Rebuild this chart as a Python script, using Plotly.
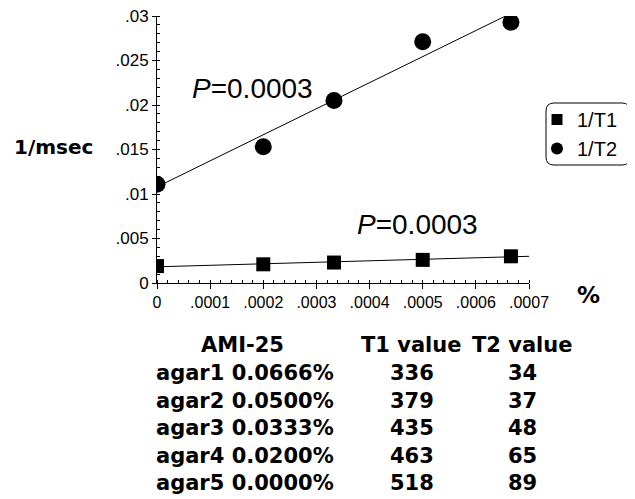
import plotly.graph_objects as go

# ---- data ----
conc_x = [0.0, 0.0002, 0.000333, 0.0005, 0.000666]
inv_t1 = [0.0019, 0.0021, 0.0023, 0.0026, 0.0030]
inv_t2 = [0.0111, 0.0153, 0.0205, 0.0271, 0.0293]

# regression lines (end points)
fit_t1_x = [0.0, 0.0007]
fit_t1_y = [0.00182, 0.00300]
fit_t2_x = [0.0, 0.000666]
fit_t2_y = [0.0108, 0.0303]

x_tickvals = [0, 0.0001, 0.0002, 0.0003, 0.0004, 0.0005, 0.0006, 0.0007]
x_ticktext = ["0", ".0001", ".0002", ".0003", ".0004", ".0005", ".0006", ".0007"]
y_tickvals = [0, 0.005, 0.01, 0.015, 0.02, 0.025, 0.03]
y_ticktext = ["0", ".005", ".01", ".015", ".02", ".025", ".03"]

p_label = "<i>P</i>=0.0003"

table_samples = ["agar1", "agar2", "agar3", "agar4", "agar5"]
table_conc = ["0.0666%", "0.0500%", "0.0333%", "0.0200%", "0.0000%"]
table_t1 = [336, 379, 435, 463, 518]
table_t2 = [34, 37, 48, 65, 89]

# ---- geometry (page pixels; the page body adds an 8px offset) ----
OFF = 8
W, H = 635, 499
L, R, T, B = 157 - OFF, 529 - OFF, 16 - OFF, 283 - OFF


def px(xp):
    return (xp - OFF - L) / (R - L)


def py(yp):
    return (B - (yp - OFF)) / (B - T)


FONT = "DejaVu Sans"
HELV = "Liberation Sans"
fig = go.Figure()

fig.add_trace(go.Scatter(x=fit_t2_x, y=fit_t2_y, mode="lines",
                         line=dict(color="black", width=1), showlegend=False, hoverinfo="skip"))
fig.add_trace(go.Scatter(x=fit_t1_x, y=fit_t1_y, mode="lines",
                         line=dict(color="black", width=1), showlegend=False, hoverinfo="skip"))
fig.add_trace(go.Scatter(x=conc_x, y=inv_t1, mode="markers", name="1/T1", showlegend=False,
                         marker=dict(symbol="square", size=14, color="black")))
fig.add_trace(go.Scatter(x=conc_x, y=inv_t2, mode="markers", name="1/T2", showlegend=False,
                         marker=dict(symbol="circle", size=17, color="black")))
# legend entries
fig.add_trace(go.Scatter(x=[None], y=[None], mode="markers", name="1/T1",
                         marker=dict(symbol="square", size=11, color="black")))
fig.add_trace(go.Scatter(x=[None], y=[None], mode="markers", name="1/T2",
                         marker=dict(symbol="circle", size=12, color="black")))

fig.update_xaxes(range=[0, 0.0007], tickmode="array", tickvals=x_tickvals, ticktext=x_ticktext,
                 showline=True, linecolor="black", linewidth=1, ticks="outside", ticklen=5,
                 tickcolor="black", showgrid=False, zeroline=False, automargin=False,
                 ticklabeloverflow="allow",
                 tickfont=dict(family=HELV, size=16, color="black"),
                 minor=dict(tickmode="linear", tick0=0, dtick=0.00002, ticks="inside",
                            ticklen=3, tickcolor="black", showgrid=False))
fig.update_yaxes(range=[0, 0.03], tickmode="array", tickvals=y_tickvals, ticktext=y_ticktext,
                 showline=True, linecolor="black", linewidth=1, ticks="outside", ticklen=4,
                 tickcolor="black", showgrid=False, zeroline=False, automargin=False,
                 ticklabeloverflow="allow",
                 tickfont=dict(family=HELV, size=17, color="black"),
                 minor=dict(tickmode="linear", tick0=0, dtick=0.001, ticks="inside",
                            ticklen=3, tickcolor="black", showgrid=False))

ann = []
ann.append(dict(x=px(12), y=py(147), xref="paper", yref="paper", xanchor="left", yanchor="middle",
                text="<b>1/msec</b>", showarrow=False, font=dict(family=FONT, size=20, color="black")))
ann.append(dict(x=px(588), y=py(295), xref="paper", yref="paper", xanchor="center", yanchor="middle",
                text="<b>%</b>", showarrow=False, font=dict(family=FONT, size=23, color="black")))
ann.append(dict(x=px(190), y=py(88), xref="paper", yref="paper", xanchor="left", yanchor="middle",
                text=p_label, showarrow=False, font=dict(family=HELV, size=28, color="black")))
ann.append(dict(x=px(355), y=py(224), xref="paper", yref="paper", xanchor="left", yanchor="middle",
                text=p_label, showarrow=False, font=dict(family=HELV, size=28, color="black")))

TF = dict(family=FONT, size=21, color="black")
ann.append(dict(x=px(242), y=py(345), xref="paper", yref="paper", xanchor="center", yanchor="middle",
                text="<b>AMI-25</b>", showarrow=False, font=TF))
ann.append(dict(x=px(411), y=py(345), xref="paper", yref="paper", xanchor="center", yanchor="middle",
                text="<b>T1 value</b>", showarrow=False, font=TF))
ann.append(dict(x=px(522), y=py(345), xref="paper", yref="paper", xanchor="center", yanchor="middle",
                text="<b>T2 value</b>", showarrow=False, font=TF))
row_y = [373, 400.5, 428, 455.5, 483]
for i in range(len(table_samples)):
    ann.append(dict(x=px(154), y=py(row_y[i]), xref="paper", yref="paper", xanchor="left",
                    yanchor="middle", text=f"<b>{table_samples[i]} {table_conc[i]}</b>",
                    showarrow=False, font=TF))
    ann.append(dict(x=px(412), y=py(row_y[i]), xref="paper", yref="paper", xanchor="center",
                    yanchor="middle", text=f"<b>{table_t1[i]}</b>", showarrow=False, font=TF))
    ann.append(dict(x=px(522), y=py(row_y[i]), xref="paper", yref="paper", xanchor="center",
                    yanchor="middle", text=f"<b>{table_t2[i]}</b>", showarrow=False, font=TF))


def rounded_rect(x0, y0, x1, y1, r):
    pts = [
        f"M {px(x0 + r)} {py(y0)}",
        f"L {px(x1 - r)} {py(y0)}",
        f"Q {px(x1)} {py(y0)} {px(x1)} {py(y0 + r)}",
        f"L {px(x1)} {py(y1 - r)}",
        f"Q {px(x1)} {py(y1)} {px(x1 - r)} {py(y1)}",
        f"L {px(x0 + r)} {py(y1)}",
        f"Q {px(x0)} {py(y1)} {px(x0)} {py(y1 - r)}",
        f"L {px(x0)} {py(y0 + r)}",
        f"Q {px(x0)} {py(y0)} {px(x0 + r)} {py(y0)}",
        "Z",
    ]
    return " ".join(pts)


fig.add_shape(type="path", xref="paper", yref="paper", path=rounded_rect(546, 103, 630, 165, 8),
              line=dict(color="black", width=1))

fig.update_layout(
    template="none",
    width=W, height=H,
    margin=dict(l=L, r=W - R, t=T, b=H - B, autoexpand=False),
    plot_bgcolor="white", paper_bgcolor="white",
    annotations=ann,
    showlegend=True,
    legend=dict(x=px(537), y=py(100), xanchor="left", yanchor="top",
                bgcolor="rgba(0,0,0,0)", borderwidth=0,
                font=dict(family=HELV, size=20, color="black")),
)

fig.write_html("out.html")
